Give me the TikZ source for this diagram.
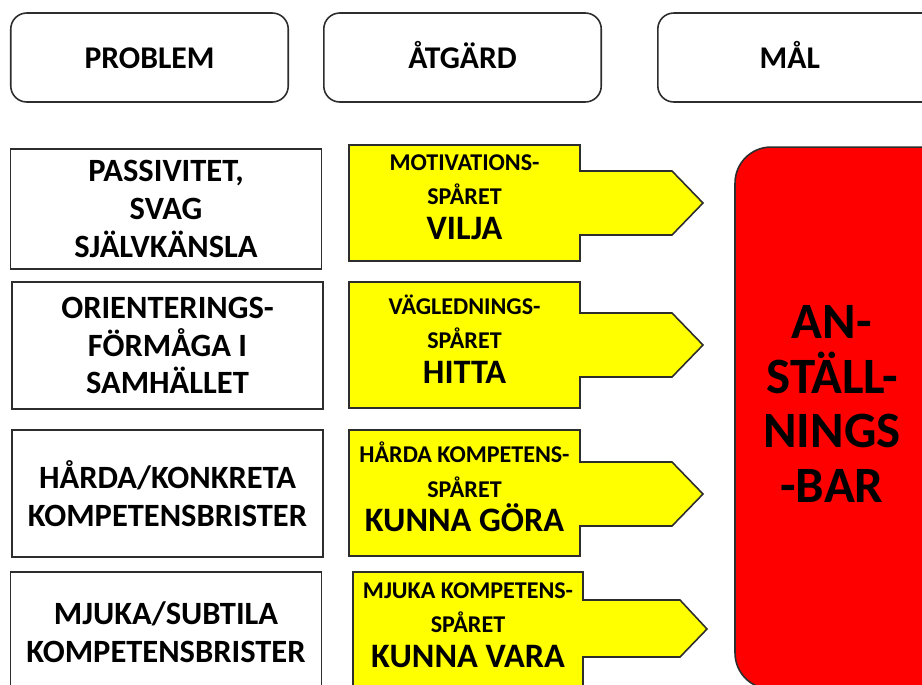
\documentclass[tikz,border=0pt]{standalone}
\usepackage{fontspec}
\setmainfont{Carlito}
\usetikzlibrary{positioning}
\definecolor{randgra}{RGB}{45,45,45}
\definecolor{spargul}{RGB}{255,255,0}
\definecolor{malrod}{RGB}{255,0,0}
\newcommand{\stortextfont}{\fontsize{19.5}{20}\selectfont\bfseries}

\tikzset{
  rubrik/.style={draw=randgra, line width=0.9pt, rounded corners=0.32cm,
    minimum width=5.55cm, minimum height=1.78cm, text height=12pt, text depth=0pt,
    font=\fontsize{18}{21}\selectfont\bfseries},
  problemruta/.style={draw=randgra, line width=0.9pt, align=center,
    minimum width=6.22cm, inner sep=0pt,
    font=\fontsize{18.5}{21.5}\selectfont\bfseries},
  sparpil/.style={draw=randgra, line width=0.9pt, fill=spargul, line join=miter},
  spartext/.style={align=center, inner sep=0pt,
    font=\fontsize{13.7}{19.5}\selectfont\bfseries},
  malruta/.style={draw=randgra, line width=0.9pt, fill=malrod, rounded corners=0.72cm}
}

\begin{document}
\begin{tikzpicture}[x=0.02cm, y=-0.02cm]
\useasboundingbox (0,0) rectangle (922,684);
\clip (0,0) rectangle (922,684);

% rubriker
\node[rubrik] (problem) at (149.5,57.5) {PROBLEM};
\node[rubrik, right=0.68cm of problem] (atgard) {ÅTGÄRD};
\node[rubrik, minimum width=6.5cm, right=1.1cm of atgard] (mal) {\hspace*{-1.22cm}MÅL};

% problem
\node[problemruta, minimum height=2.4cm] (passiv) at (166,209) {PASSIVITET,\\SVAG\\SJÄLVKÄNSLA};
\node[problemruta, minimum height=2.54cm] (orient) at (167.5,345.5) {ORIENTERINGS-\\FÖRMÅGA I\\SAMHÄLLET};
\node[problemruta, minimum height=2.54cm] (harda) at (167.5,493.5) {HÅRDA/KONKRETA\\KOMPETENSBRISTER};
\node[problemruta, minimum height=2.42cm] (mjuka) at (166,632.5) {MJUKA/SUBTILA\\KOMPETENSBRISTER};

% atgarder
\draw[sparpil] (349,145) -| (580,171) -- (672,171) -- (703,203) -- (672,235) -- (580,235) |- (349,261) -- cycle;
\draw[sparpil] (349,282) -| (580,313) -- (672,313) -- (703,345) -- (672,377) -- (580,377) |- (349,408) -- cycle;
\draw[sparpil] (349,430) -| (580,462) -- (672,462) -- (703,494) -- (672,526) -- (580,526) |- (349,556) -- cycle;
\draw[sparpil] (353,572) -| (583,600) -- (680,600) -- (707,629) -- (680,657) -- (583,657) |- (353,700) -- cycle;

\node[spartext] (vilja) at (464.5,197) {MOTIVATIONS-\\SPÅRET\\{\stortextfont VILJA}};
\node[spartext] (hitta) at (464.5,339) {VÄGLEDNINGS-\\SPÅRET\\{\stortextfont HITTA}};
\node[spartext] (gora) at (464.5,487) {HÅRDA KOMPETENS-\\SPÅRET\\{\stortextfont KUNNA GÖRA}};
\node[spartext] (vara) at (468,625) {MJUKA KOMPETENS-\\SPÅRET\\{\stortextfont KUNNA VARA}};

% mal
\node[malruta, minimum width=5cm, minimum height=10.84cm] (anst) at (860,418) {};
\node[align=center, font=\fontsize{29}{31}\selectfont\bfseries] (anstText) at (832,404) {AN-\\STÄLL-\\NINGS\\-BAR};

\end{tikzpicture}
\end{document}
